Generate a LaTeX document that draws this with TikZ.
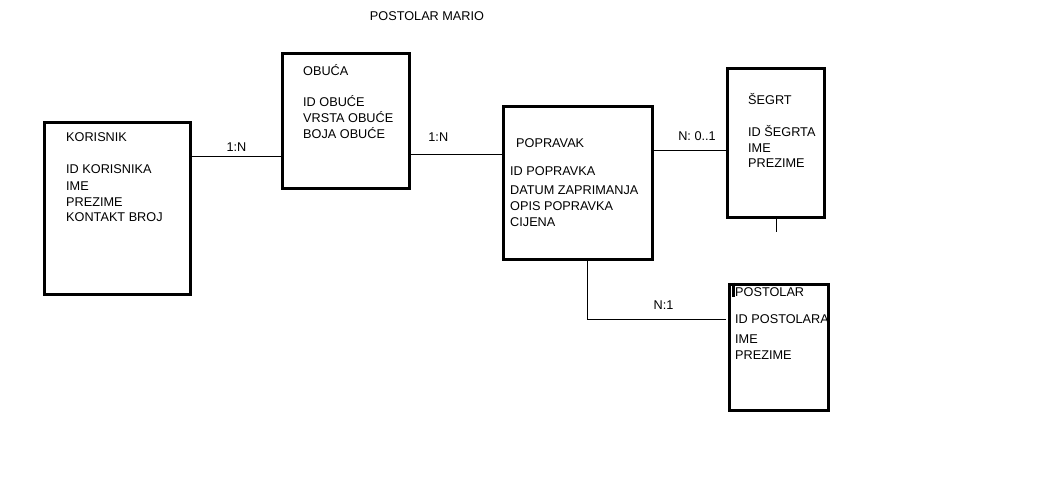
\documentclass[tikz,border=0pt]{standalone}
\usepackage{fontspec}
\setmainfont{Liberation Sans}
\tikzset{
  entity/.style={draw=black, line width=3pt, inner sep=0pt},
  attrs/.style={anchor=base west, inner sep=0pt, align=left},
  link/.style={draw=black, line width=1pt},
  card/.style={inner sep=0pt},
  stub/.style={draw=black, line width=2.5pt}
}

\begin{document}
\begin{tikzpicture}[x=1pt,y=-1pt,font=\fontsize{12.7}{16}\selectfont]
  \useasboundingbox (0,0) rectangle (1046,481);
  \node[anchor=base, inner sep=0pt] (title) at (427,21) {POSTOLAR MARIO};

  % entities
  \node[entity, minimum width=146pt, minimum height=172pt] (kor) at (117.5,208.5) {};
  \node[entity, minimum width=127pt, minimum height=135pt] (obu) at (346,121) {};
  \node[entity, minimum width=148.5pt, minimum height=153pt] (pop) at (577.75,183) {};
  \node[entity, minimum width=97pt, minimum height=149pt] (seg) at (776,143) {};
  \node[entity, minimum width=99pt, minimum height=126pt] (pos) at (779,347) {};

  % attribute lists, placed by the baseline of their last line
  \node[attrs] (korTxt) at (66,222) {KORISNIK\\[16pt]ID KORISNIKA\\IME\\PREZIME\\KONTAKT BROJ};
  \node[attrs] (obuTxt) at (303,139) {OBUĆA\\[15pt]ID OBUĆE\\VRSTA OBUĆE\\BOJA OBUĆE};
  \node[attrs] (popTxt) at (510,226) {\hspace*{6pt}POPRAVAK\\[12pt]ID POPRAVKA\\[3pt]DATUM ZAPRIMANJA\\OPIS POPRAVKA\\CIJENA};
  \node[attrs] (segTxt) at (748,168) {ŠEGRT\\[15pt]ID ŠEGRTA\\IME\\PREZIME};
  \node[attrs] (posTxt) at (735,359) {POSTOLAR\\[11pt]ID POSTOLARA\\[4pt]IME\\PREZIME};

  % relationships
  \coordinate (k1) at ([yshift=-35.5pt]kor.north east);
  \coordinate (o1) at ([yshift=-102.5pt]obu.north east);
  \coordinate (p1) at ([yshift=-46pt]pop.north east);
  \coordinate (p2) at ([xshift=10pt]pop.south);
  \coordinate (s1) at ([yshift=-36.5pt]pos.north west);
  \draw[link] (k1) -- node[card, above=4pt] {1:N} (k1 -| obu.west);
  \draw[link] (o1) -- node[card, pos=0.3, above=12pt] {1:N} (o1 -| pop.west);
  \draw[link] (p1) -- node[card, pos=0.6, above=9.5pt] {N: 0..1} (p1 -| seg.west);
  \draw[link] (p2) |- node[card, pos=0.774, above=9.5pt] {N:1} ([xshift=-2pt]s1);
  \draw[link] (seg.south) -- ++(0,13);
  \draw[stub] ([xshift=5.5pt]pos.north west) -- ++(0,14);
\end{tikzpicture}
\end{document}
